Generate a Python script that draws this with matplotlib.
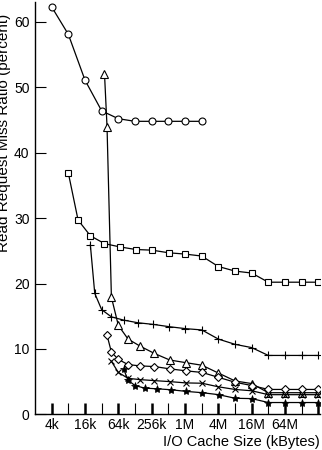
import matplotlib
matplotlib.use("Agg")
import matplotlib.pyplot as plt
import numpy as np

plt.rcParams['font.family'] = ['Liberation Sans', 'DejaVu Sans']

# cache sizes in kBytes, one list per curve
circle_x = [4, 8, 16, 32, 64, 128, 256, 512, 1024, 2048]
circle_y = [62.3, 58.1, 51.1, 46.4, 45.2, 44.8, 44.8, 44.8, 44.8, 44.8]

square_x = [8, 12, 20, 36, 68, 132, 260, 516, 1028, 2052, 4100, 8196,
            16388, 32772, 65540, 131076, 262148]
square_y = [36.9, 29.7, 27.3, 26.1, 25.6, 25.2, 25.1, 24.7, 24.5, 24.2,
            22.6, 21.9, 21.6, 20.2, 20.2, 20.2, 20.2]

plus_x = [20, 24, 32, 48, 80, 144, 272, 528, 1040, 2064, 4112, 8208,
          16400, 32784, 65552, 131088, 262160]
plus_y = [25.9, 18.5, 16.0, 14.9, 14.4, 14.0, 13.75, 13.4, 13.1, 12.9,
          11.5, 10.7, 10.2, 9.0, 9.0, 9.0, 9.0]

tri_x = [36, 40, 48, 64, 96, 160, 288, 544, 1056, 2080, 4128, 8224,
         16416, 32800, 65568, 131104, 262176]
tri_y = [52.1, 44.0, 17.9, 13.6, 11.5, 10.4, 9.3, 8.3, 7.9, 7.5,
         6.3, 5.1, 4.7, 3.3, 3.3, 3.3, 3.3]

diam_x = [40, 48, 64, 96, 160, 288, 544, 1056, 2080, 4128, 8224,
          16416, 32800, 65568, 131104, 262176]
diam_y = [12.1, 9.5, 8.4, 7.6, 7.4, 7.3, 6.95, 6.65, 6.4, 5.65, 4.9,
          4.4, 3.8, 3.8, 3.8, 3.8]

cross_x = [48, 64, 96, 160, 288, 544, 1056, 2080, 4128, 8224, 16416,
           32800, 65568, 131104, 262176]
cross_y = [8.1, 6.4, 5.5, 5.3, 5.15, 5.0, 4.8, 4.75, 4.2, 3.8, 3.6,
           3.0, 3.0, 3.0, 3.0]

star_x = [80, 96, 128, 192, 320, 576, 1088, 2112, 4160, 8256, 16448,
          32832, 65600, 131136, 262208]
star_y = [6.9, 5.2, 4.4, 4.0, 3.9, 3.75, 3.5, 3.3, 3.0, 2.45, 2.4,
          1.8, 1.8, 1.8, 1.8]

tick_pos = [4, 16, 64, 256, 1024, 4096, 16384, 65536, 262144]
tick_labels = ['4k', '16k', '64k', '256k', '1M', '4M', '16M', '64M', '']

fig = plt.figure(figsize=(3.22, 4.5), dpi=100)
ax = fig.add_axes([35 / 322, 35.7 / 450, 285 / 322, 412 / 450])

lw = 0.9
ms = 5
ax.plot(circle_x, circle_y, color='black', lw=lw, marker='o', ms=ms, mfc='white', mec='black', mew=0.8)
ax.plot(square_x, square_y, color='black', lw=lw, marker='s', ms=ms, mfc='white', mec='black', mew=0.8)
ax.plot(plus_x, plus_y, color='black', lw=lw, marker='+', ms=ms + 1, mew=0.8)
ax.plot(tri_x, tri_y, color='black', lw=lw, marker='^', ms=ms + 1, mfc='white', mec='black', mew=0.8)
ax.plot(diam_x, diam_y, color='black', lw=lw, marker='D', ms=ms - 1, mfc='white', mec='black', mew=0.8)
ax.plot(cross_x, cross_y, color='black', lw=lw, marker='x', ms=ms - 1, mew=0.8)
ax.plot(star_x, star_y, color='black', lw=lw, marker='*', ms=ms + 1, mfc='black', mec='black', mew=0.5)

ax.set_xscale('log', base=2)
ax.set_xlim(2, 262144 * 2 ** (1.7 / 16.67))
ax.set_ylim(0, 63)

ax.set_xticks(tick_pos)
ax.set_xticklabels(tick_labels)
ax.set_xticks([8 * 4 ** i for i in range(8)], minor=True)
ax.xaxis.set_minor_formatter(matplotlib.ticker.NullFormatter())
ax.set_yticks([0, 10, 20, 30, 40, 50, 60])

ax.tick_params(axis='x', which='major', direction='in', length=8, width=1.8, labelsize=10, pad=3)
ax.tick_params(axis='x', which='minor', direction='in', length=8, width=0.8)
ax.tick_params(axis='y', which='major', direction='in', length=8, width=0.8, labelsize=10, pad=4)

for side in ['top', 'right']:
    ax.spines[side].set_visible(False)
for side in ['left', 'bottom']:
    ax.spines[side].set_linewidth(1.0)

ax.set_xlabel('I/O Cache Size (kBytes)', fontsize=10.5, ha='right', va='top')
ax.xaxis.set_label_coords(1.0, -0.050)
ax.set_ylabel('Read Request Miss Ratio (percent)', fontsize=11, va='bottom')
ax.yaxis.set_label_coords(-0.085, 0.683)

fig.savefig('out.png', dpi=100)
